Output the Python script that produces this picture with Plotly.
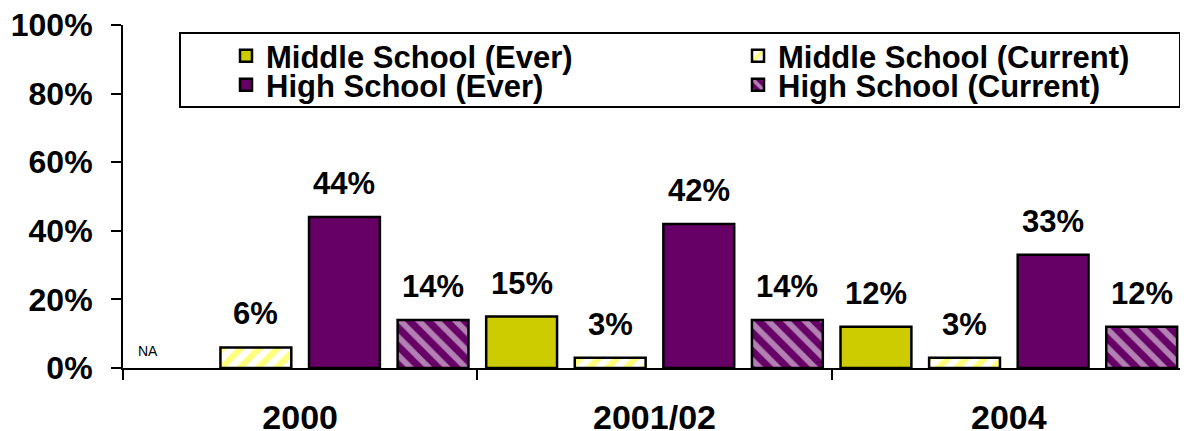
import plotly.graph_objects as go

categories = ["2000", "2001/02", "2004"]
series_names = ["Middle School (Ever)", "Middle School (Current)",
                "High School (Ever)", "High School (Current)"]
ms_ever = [None, 15, 12]
ms_current = [6, 3, 3]
hs_ever = [44, 42, 33]
hs_current = [14, 14, 12]
y_ticks = [0, 20, 40, 60, 80, 100]
na_label = "NA"

# page body has an 8px margin; lay the figure out in screen pixels
OFF = 8
W, H = 1188 - OFF, 431 - OFF
ML, MR, MT, MB = 123 - OFF, 2, 25 - OFF, 431 - 368
PW = W - ML - MR
PH = H - MT - MB
BARGAP = 0.0
GROUPGAP = 0.2
PURPLE = "#660066"
YELLOW = "#FFFF00"
OLIVE_YELLOW = "#CCCC00"
FONT = "Liberation Sans, Arial, sans-serif"


def px_x(sx):
    return (sx - OFF - ML) / PW


def px_y(sy):
    return (H + OFF - MB - sy) / PH


series = [ms_ever, ms_current, hs_ever, hs_current]
styles = [
    dict(color=OLIVE_YELLOW),
    dict(color="white", pattern=dict(shape="/", fgcolor=YELLOW, bgcolor="white",
                                      size=13, solidity=0.5)),
    dict(color=PURPLE),
    dict(color=PURPLE, pattern=dict(shape="\\", fgcolor="white", bgcolor=PURPLE,
                                     size=13, solidity=0.45)),
]
legend_ids = ["legend", "legend2", "legend3", "legend4"]
legend_pos = [(226, 29), (738, 29), (226, 58), (738, 58)]  # screen px (left, top)

fig = go.Figure()
for name, vals, st, lg in zip(series_names, series, styles, legend_ids):
    fig.add_trace(go.Bar(
        x=categories, y=vals, name=name, legend=lg, showlegend=True,
        marker=dict(line=dict(color="black", width=2.5), **st),
    ))

# value labels above bars (x given as category index)
slot = PW / len(categories) * (1 - BARGAP) / len(series)
annotations = []
for i, vals in enumerate(series):
    for j, v in enumerate(vals):
        if v is None:
            annotations.append(dict(
                x=j, y=0, xref="x", yref="y", text=na_label, showarrow=False,
                xshift=(i - 1.5) * slot - 19, yshift=17,
                font=dict(family=FONT, size=14, color="black")))
        else:
            annotations.append(dict(
                x=j, y=v, xref="x", yref="y", text=f"{v}%", showarrow=False,
                xshift=(i - 1.5) * slot, yshift=14, yanchor="bottom",
                font=dict(family=FONT, size=31, color="black", weight="bold")))

legend_font = dict(family=FONT, size=31, color="black", weight="bold")
legend_layouts = {}
for lg, (lx, ly) in zip(legend_ids, legend_pos):
    legend_layouts[lg] = dict(orientation="h", x=px_x(lx), y=px_y(ly),
                              xanchor="left", yanchor="top", font=legend_font,
                              bgcolor="rgba(0,0,0,0)", borderwidth=0, visible=True)

fig.update_layout(
    width=W, height=H,
    showlegend=True,
    margin=dict(l=ML, r=MR, t=MT, b=MB, pad=0, autoexpand=False),
    paper_bgcolor="white", plot_bgcolor="white",
    barmode="group", bargap=BARGAP, bargroupgap=GROUPGAP,
    font=dict(family=FONT, color="black"),
    annotations=annotations,
    shapes=[dict(type="rect", xref="paper", yref="paper",
                 x0=px_x(180), x1=px_x(1180), y0=px_y(107), y1=px_y(33),
                 line=dict(color="black", width=2), fillcolor="white", layer="below")],
    xaxis=dict(type="category", range=[-0.5, len(categories) - 0.5], automargin=False,
               showline=True, linecolor="black", linewidth=2,
               ticks="outside", tickson="boundaries", ticklen=10, tickwidth=2,
               tickcolor="black", showgrid=False, zeroline=False, tickangle=0,
               ticklabeloverflow="allow",
               tickfont=dict(family=FONT, size=34, color="black", weight="bold"),
               ticklabelstandoff=18),
    yaxis=dict(range=[0, 100], tickvals=y_ticks, ticktext=[f"{t}%" for t in y_ticks],
               automargin=False, ticklabeloverflow="allow",
               showline=True, linecolor="black", linewidth=2, ticks="outside",
               ticklen=10, tickwidth=2, tickcolor="black", showgrid=False,
               zeroline=False,
               tickfont=dict(family=FONT, size=32, color="black", weight="bold"),
               ticklabelstandoff=12),
    **legend_layouts,
)

fig.write_html("out.html")
